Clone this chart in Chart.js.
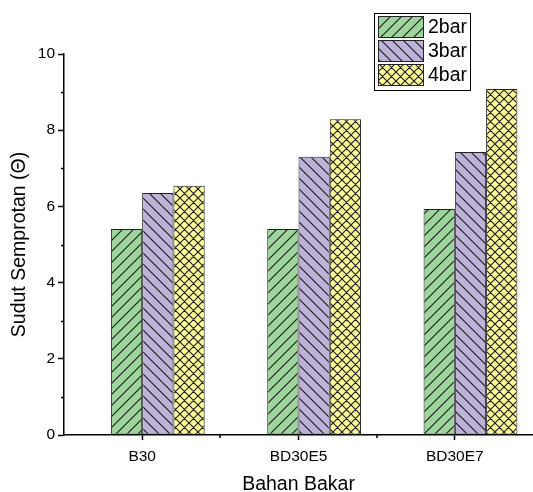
<!DOCTYPE html>
<html>
<head>
<meta charset="utf-8">
<script src="https://cdn.jsdelivr.net/npm/chart.js@4.4.0/dist/chart.umd.min.js"></script>
<style>
  html, body { margin: 0; padding: 0; background: #fff; }
  #wrap { width: 533px; height: 492px; }
</style>
</head>
<body>
<div id="wrap"><canvas id="myChart" width="533" height="492"></canvas></div>
<script>
// data
const categories = ['B30', 'BD30E5', 'BD30E7'];
const seriesNames = ['2bar', '3bar', '4bar'];
const bar2 = [5.41, 5.41, 5.93];
const bar3 = [6.35, 7.30, 7.43];
const bar4 = [6.54, 8.29, 9.08];
const yTicks = [0, 2, 4, 6, 8, 10];
const yMinor = [1, 3, 5, 7, 9];

const FONT = "'Liberation Sans', Arial, sans-serif";

// hatch patterns like Origin's fills
function hatch(bg, kind, s) {
  const c = document.createElement('canvas');
  c.width = s; c.height = s;
  const g = c.getContext('2d');
  g.fillStyle = bg;
  g.fillRect(0, 0, s, s);
  g.strokeStyle = '#1e1e1e';
  g.lineWidth = 1.15;
  g.beginPath();
  if (kind === '/' || kind === 'x') {
    g.moveTo(-1, s + 1); g.lineTo(s + 1, -1);
    g.moveTo(-1, 1); g.lineTo(1, -1);
    g.moveTo(s - 1, s + 1); g.lineTo(s + 1, s - 1);
  }
  if (kind === '\\' || kind === 'x') {
    g.moveTo(-1, -1); g.lineTo(s + 1, s + 1);
    g.moveTo(s - 1, -1); g.lineTo(s + 1, 1);
    g.moveTo(-1, s - 1); g.lineTo(1, s + 1);
  }
  g.stroke();
  return g.createPattern(c, 'repeat');
}

const fills = [
  hatch('rgb(157,213,157)', '/', 11),
  hatch('rgb(189,178,216)', '\\', 11),
  hatch('rgb(255,255,153)', 'x', 9)
];

const minorTicks = {
  id: 'minorTicks',
  afterDraw(chart) {
    const ctx = chart.ctx;
    const x = chart.scales.x, y = chart.scales.y;
    const a = chart.chartArea;
    ctx.save();
    ctx.strokeStyle = '#000';
    ctx.lineWidth = 1.5;
    ctx.beginPath();
    yMinor.forEach(v => {
      const py = Math.round(y.getPixelForValue(v)) + 0.5;
      ctx.moveTo(a.left - 3, py); ctx.lineTo(a.left, py);
    });
    for (let i = 0; i < categories.length - 1; i++) {
      const px = Math.round((x.getPixelForTick(i) + x.getPixelForTick(i + 1)) / 2);
      ctx.moveTo(px, a.bottom); ctx.lineTo(px, a.bottom + 3);
    }
    ctx.stroke();
    ctx.restore();
  }
};

const boxLegend = {
  id: 'boxLegend',
  afterDraw(chart) {
    const ctx = chart.ctx;
    ctx.save();
    ctx.fillStyle = '#fff';
    ctx.fillRect(374, 13, 96, 77);
    ctx.strokeStyle = '#000';
    ctx.lineWidth = 1;
    ctx.strokeRect(374.5, 13.5, 96, 77);
    chart.data.datasets.filter(ds => ds.label).forEach((ds, i) => {
      const top = 16 + i * 24;
      ctx.fillStyle = ds.backgroundColor;
      ctx.fillRect(378, top, 45, 21);
      ctx.strokeStyle = '#222';
      ctx.strokeRect(378.5, top + 0.5, 45, 21);
      ctx.fillStyle = '#000';
      ctx.font = '19.5px ' + FONT;
      ctx.textBaseline = 'middle';
      ctx.textAlign = 'left';
      ctx.fillText(ds.label, 428, top + 12);
    });
    ctx.restore();
  }
};

const config = {
  type: 'bar',
  data: {
    labels: categories,
    datasets: [
      // empty slot: Origin puts the tick at the 2bar/3bar boundary
      { label: '', data: categories.map(() => null), backgroundColor: 'rgba(0,0,0,0)' },
      { label: seriesNames[0], data: bar2, backgroundColor: fills[0] },
      { label: seriesNames[1], data: bar3, backgroundColor: fills[1] },
      { label: seriesNames[2], data: bar4, backgroundColor: fills[2] }
    ]
  },
  options: {
    responsive: false,
    devicePixelRatio: 1,
    animation: false,
    datasets: {
      bar: {
        borderColor: '#222',
        borderWidth: 1,
        borderSkipped: false,
        categoryPercentage: 0.8,
        barPercentage: 1.0
      }
    },
    layout: { padding: { top: 54, right: 0, left: 0, bottom: 0 } },
    plugins: {
      legend: { display: false },
      tooltip: { enabled: false }
    },
    scales: {
      x: {
        offset: true,
        grid: {
          offset: false,
          drawOnChartArea: false,
          drawTicks: true,
          tickLength: 5,
          tickWidth: 1.5,
          tickColor: '#000'
        },
        border: { display: true, color: '#000', width: 1.5 },
        ticks: { color: '#000', font: { family: FONT, size: 15.5 }, padding: 7 },
        title: {
          display: true,
          text: 'Bahan Bakar',
          color: '#000',
          font: { family: FONT, size: 19.5, lineHeight: 1 },
          padding: { top: 0, bottom: -2 }
        },
        afterFit(scale) { scale.height = 57; }
      },
      y: {
        min: 0,
        max: 10,
        afterBuildTicks(scale) { scale.ticks = yTicks.map(v => ({ value: v })); },
        grid: {
          drawOnChartArea: false,
          tickLength: 6,
          tickWidth: 1.5,
          tickColor: '#000'
        },
        border: { display: true, color: '#000', width: 1.5 },
        ticks: { color: '#000', font: { family: FONT, size: 15.5 }, padding: 3 },
        title: {
          display: true,
          text: 'Sudut Semprotan (Θ)',
          color: '#000',
          font: { family: FONT, size: 19.5 },
          padding: { top: 8, bottom: 0 }
        },
        afterFit(scale) { scale.width = 64; }
      }
    }
  },
  plugins: [minorTicks, boxLegend]
};

var ctx = document.getElementById('myChart').getContext('2d');
grafica = new Chart(ctx, config);
</script>
</body>
</html>
